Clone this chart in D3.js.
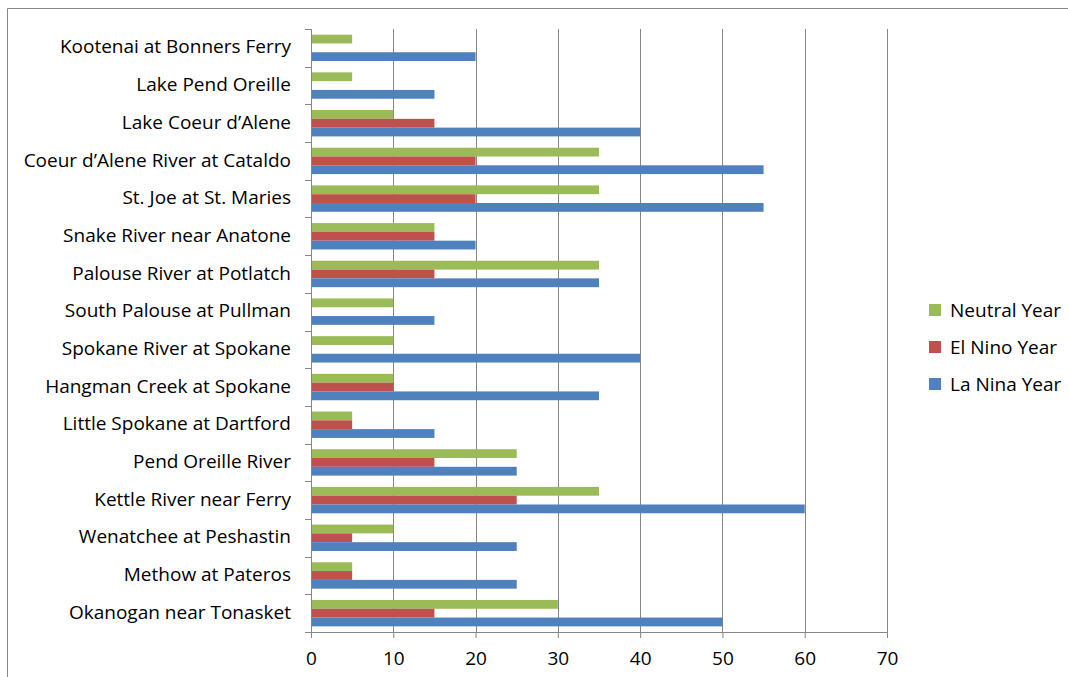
<!DOCTYPE html>
<html>
<head>
<meta charset="utf-8">
<script src="https://cdn.jsdelivr.net/npm/d3@7"></script>
<style>
  body { margin: 0; background: #fff; }
  text { font-family: "Open Sans", sans-serif; fill: #000; }
</style>
</head>
<body>
<div id="chart"></div>
<script>
// categories top to bottom
const sites = [
  "Kootenai at Bonners Ferry",
  "Lake Pend Oreille",
  "Lake Coeur d\u2019Alene",
  "Coeur d\u2019Alene River at Cataldo",
  "St. Joe at St. Maries",
  "Snake River near Anatone",
  "Palouse River at Potlatch",
  "South Palouse at Pullman",
  "Spokane River at Spokane",
  "Hangman Creek at Spokane",
  "Little Spokane at Dartford",
  "Pend Oreille River",
  "Kettle River near Ferry",
  "Wenatchee at Peshastin",
  "Methow at Pateros",
  "Okanogan near Tonasket"
]
const neutral = [5, 5, 10, 35, 35, 15, 35, 10, 10, 10, 5, 25, 35, 10, 5, 30]
const elNino  = [0, 0, 15, 20, 20, 15, 15, 0, 0, 10, 5, 15, 25, 5, 5, 15]
const laNina  = [20, 15, 40, 55, 55, 20, 35, 15, 40, 35, 15, 25, 60, 25, 25, 50]
const xTicks = [0, 10, 20, 30, 40, 50, 60, 70]

const seriesNames = ["Neutral Year", "El Nino Year", "La Nina Year"]
const seriesColors = ["#9BBB59", "#C0504D", "#4F81BD"]
const seriesValues = [neutral, elNino, laNina]

const W = 1068, H = 677
const m = {left: 311, right: 181, top: 29, bottom: 45}
const fontSize = "19px"

const svg = d3.select("#chart").append("svg")
    .attr("width", W)
    .attr("height", H)

// chart frame (only top and left edges visible)
svg.append("path")
    .attr("d", "M7.5," + H + "V8.5H" + W)
    .style("fill", "none")
    .style("stroke", "#888")
    .style("stroke-width", 1)

const x = d3.scaleLinear().domain([0, 70]).range([m.left, W - m.right])
const y = d3.scaleBand().domain(sites).range([m.top, H - m.bottom]).paddingInner(0.3).paddingOuter(0.15)
const yb = d3.scaleBand().domain(d3.range(3)).range([0, y.bandwidth()])

// vertical gridlines
svg.append("g")
    .selectAll("line")
    .data(xTicks.slice(1)).enter()
    .append("line")
    .attr("x1", d => Math.round(x(d)) + 0.5)
    .attr("x2", d => Math.round(x(d)) + 0.5)
    .attr("y1", m.top)
    .attr("y2", H - m.bottom)
    .style("stroke", "#868686")
    .style("stroke-width", 1)

// bars
const rows = sites.map((s, i) => ({site: s, vals: seriesValues.map(v => v[i])}))
svg.append("g")
    .selectAll("g")
    .data(rows).enter()
    .append("g")
    .attr("transform", d => "translate(0," + y(d.site) + ")")
    .selectAll("rect")
    .data(d => d.vals).enter()
    .append("rect")
    .attr("x", x(0))
    .attr("y", (d, j) => yb(j))
    .attr("width", d => x(d) - x(0))
    .attr("height", yb.bandwidth())
    .style("fill", (d, j) => seriesColors[j])

// x axis
const xAxis = svg.append("g")
    .attr("transform", "translate(0," + (H - m.bottom) + ")")
    .call(d3.axisBottom(x).tickValues(xTicks).tickSize(6).tickPadding(14))
xAxis.select(".domain").style("stroke", "#868686")
xAxis.selectAll(".tick line").style("stroke", "#868686")
xAxis.selectAll("text").style("font-size", fontSize).style("font-family", "'Open Sans', sans-serif")

// y axis: ticks at category boundaries
const bounds = d3.range(sites.length + 1).map(i => m.top + i * (H - m.bottom - m.top) / sites.length)
svg.append("line")
    .attr("x1", m.left + 0.5).attr("x2", m.left + 0.5)
    .attr("y1", m.top).attr("y2", H - m.bottom)
    .style("stroke", "#868686")
svg.append("g")
    .selectAll("line")
    .data(bounds).enter()
    .append("line")
    .attr("x1", m.left - 6).attr("x2", m.left)
    .attr("y1", d => Math.round(d) + 0.5).attr("y2", d => Math.round(d) + 0.5)
    .style("stroke", "#868686")

svg.append("g")
    .selectAll("text")
    .data(sites).enter()
    .append("text")
    .attr("x", m.left - 20)
    .attr("y", d => y(d) + y.bandwidth() / 2 - 1)
    .attr("dy", "0.35em")
    .attr("text-anchor", "end")
    .style("font-size", fontSize)
    .text(d => d)

// legend
const legend = svg.append("g")
    .selectAll("g")
    .data(seriesNames).enter()
    .append("g")
    .attr("transform", (d, i) => "translate(929," + (310 + i * 37) + ")")
legend.append("rect")
    .attr("x", 0).attr("y", -6)
    .attr("width", 12).attr("height", 12)
    .style("fill", (d, i) => seriesColors[i])
legend.append("text")
    .attr("x", 21)
    .attr("dy", "0.35em")
    .style("font-size", fontSize)
    .text(d => d)
</script>
</body>
</html>
